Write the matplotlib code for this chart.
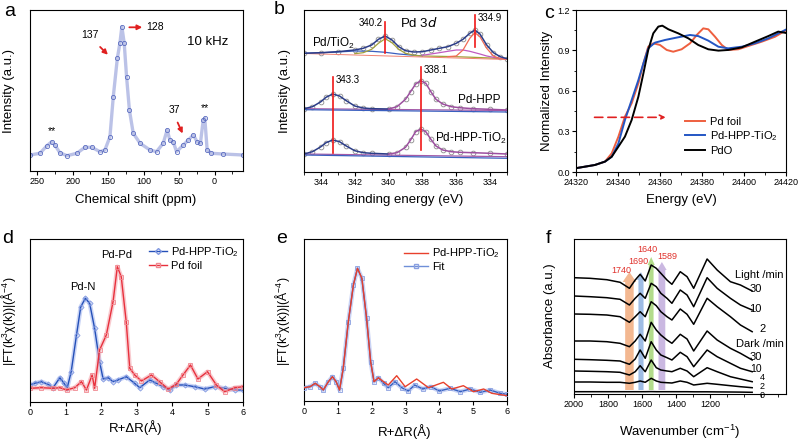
import numpy as np
import matplotlib
matplotlib.use('Agg')
import matplotlib.pyplot as plt
from matplotlib.ticker import MultipleLocator, FormatStrFormatter, FixedLocator
from matplotlib.lines import Line2D

plt.rcParams['font.family'] = ['Liberation Sans', 'DejaVu Sans']
plt.rcParams['mathtext.default'] = 'regular'
plt.rcParams['axes.linewidth'] = 0.8

# ---------------- data ----------------
# (a) 13C NMR
nmr_ppm = [260, 246, 236.5, 229.5, 225, 218, 208, 194, 182.6, 173, 161.5, 154.5, 147.4, 142.7, 137,
           133.4, 130.6, 127.3, 124, 120, 114.6, 105, 91, 81.8, 72.4, 66.8, 63, 58.3, 53.6, 44, 37,
           30, 24.6, 20, 16, 13.8, 10.5, 4.4, -12, -40]
nmr_int = [16, 17.7, 25, 29.3, 26, 18.3, 15.3, 17.7, 23.7, 23.7, 19.3, 21, 34.3, 74.3, 112.7,
           127.7, 144.3, 127.7, 94.3, 61, 37.7, 27.7, 21, 19.3, 27.7, 41, 31, 29.3, 19.3, 26, 31,
           36, 29.3, 27.7, 51, 52.7, 21, 17.7, 17, 16]

# (b) XPS Pd 3d
xps_ev_top = [345, 344, 343, 342, 341.5, 341, 340.6, 340.2, 339.8, 339.4, 339, 338.5, 338, 337.5,
              337, 336.5, 336, 335.6, 335.2, 334.9, 334.6, 334.2, 333.8, 333.4, 333]
xps_pd_tio2 = [118.7, 119.3, 120.3, 122, 123.7, 127, 132.7, 136, 132, 125.3, 121.3, 120, 120.3, 122,
               123.7, 125.3, 128.7, 132.7, 138.7, 142, 138, 127, 119.3, 115.3, 113.3]
olive_ev = [342, 341.5, 341, 340.6, 340.2, 339.8, 339.4, 339, 338.5, 338, 337, 336, 335, 334, 333]
olive_fit = [118.3, 119.3, 122.7, 128.7, 133.3, 129.3, 122.7, 118.7, 116.7, 116, 115.7, 115.3, 114.7, 114, 113]
blue_ev = [345, 344, 343, 342, 341, 340.2, 339.4, 338.5, 338]
blue_fit = [118.7, 119.2, 120, 121, 120.7, 119.7, 118, 116.7, 116]
mag_ev = [338, 337, 336.5, 336, 335.6, 335.2, 334.6, 334.2, 333.8, 333.4, 333]
mag_fit = [116.7, 119.3, 120.7, 122, 122, 120.7, 118, 116, 114.7, 113.7, 113]
red_ev = [336.5, 336, 335.6, 335.2, 334.9, 334.6, 334.2, 333.8, 333.4, 333]
red_fit = [115.3, 116, 122, 133.7, 139.3, 135.3, 123.7, 116, 113.3, 112.7]

xps_ev = [345, 344.5, 344, 343.7, 343.3, 342.9, 342.5, 342, 341.5, 341, 340, 339.5, 339, 338.7,
          338.4, 338.1, 337.8, 337.5, 337.2, 336.8, 336.3, 335.8, 335, 334, 333]
xps_hpp = [63.3, 65.3, 70.3, 74.7, 78, 76, 71.3, 66, 64, 63.3, 63, 65.3, 72.7, 80.3, 88, 91.3,
           88.7, 80.3, 72.7, 68, 65.3, 64.3, 63.3, 62.7, 62]
xps_hpp_tio2 = [18, 20.3, 25.3, 29.3, 32, 30.3, 26, 21.3, 19.3, 18.7, 18, 19.3, 24.7, 32, 40.3, 43,
                40.3, 32.7, 26, 22, 20.3, 19.7, 19.3, 18.7, 18]

# (c) XANES
c_foil_e = [24319.5, 24329, 24333.8, 24337, 24340.2, 24343.3, 24346.5, 24349.7, 24352.1, 24354.4,
            24356.8, 24360, 24363.2, 24366.3, 24370.3, 24374.3, 24377.5, 24380.6, 24383, 24386.2,
            24389.4, 24392.5, 24397.3, 24402, 24408.4, 24414.8, 24420]
c_foil = [0.027, 0.052, 0.077, 0.138, 0.262, 0.41, 0.509, 0.657, 0.805, 0.928, 0.953, 0.941, 0.904,
          0.891, 0.909, 0.953, 1.015, 1.064, 1.057, 1.002, 0.941, 0.904, 0.909, 0.933, 0.965, 1.002, 1.05]
c_hpp_e = [24319.5, 24329, 24333.8, 24337, 24340.2, 24343.3, 24346.5, 24349.7, 24352.1, 24354.4,
           24357.6, 24362.4, 24368.7, 24374.3, 24378.2, 24383, 24387.8, 24392.5, 24398.9, 24405.2,
           24411.6, 24420]
c_hpp = [0.027, 0.052, 0.077, 0.113, 0.212, 0.385, 0.533, 0.681, 0.805, 0.916, 0.958, 0.978, 0.998,
         1.015, 1.007, 0.973, 0.928, 0.916, 0.928, 0.953, 0.99, 1.055]
c_pdo_e = [24319.5, 24329, 24333.8, 24337, 24340.2, 24343.3, 24346.5, 24349.7, 24352.1, 24354.4,
           24356.8, 24359.2, 24361.1, 24364, 24368.7, 24373.5, 24378.2, 24383, 24387.8, 24392.5,
           24398.9, 24405.2, 24411.6, 24416.3, 24420]
c_pdo = [0.027, 0.052, 0.077, 0.113, 0.188, 0.262, 0.385, 0.558, 0.731, 0.904, 1.027, 1.077, 1.084,
         1.057, 1.027, 0.99, 0.941, 0.909, 0.899, 0.904, 0.923, 0.965, 1.007, 1.04, 1.03]

# (d) FT-EXAFS
d_hpp_r = [0, 0.13, 0.32, 0.51, 0.65, 0.84, 0.96, 1.05, 1.16, 1.31, 1.43, 1.56, 1.68, 1.82, 1.96,
           2.06, 2.2, 2.34, 2.48, 2.71, 2.95, 3.09, 3.37, 3.56, 3.75, 3.93, 4.12, 4.36, 4.64, 4.92,
           5.2, 5.48, 5.77, 6.0]
d_hpp = [17, 18.7, 20.3, 17.7, 14.3, 24.3, 18.7, 14.3, 30.3, 67, 95.3, 103.7, 98.7, 73.7, 40.3,
         23, 24.3, 20.3, 22, 25.3, 18.7, 14.3, 22, 18.7, 15.3, 12, 17, 17, 15.3, 13, 15.3, 13.7, 12, 12]
d_foil_r = [0, 0.32, 0.65, 0.84, 1.03, 1.26, 1.45, 1.59, 1.75, 1.82, 1.96, 2.15, 2.34, 2.46, 2.57,
            2.71, 2.81, 2.95, 3.14, 3.42, 3.65, 3.89, 4.12, 4.31, 4.52, 4.73, 5.0, 5.25, 5.48, 5.77, 6.0]
d_foil = [13.7, 14.3, 13.7, 14.3, 12, 14.3, 20.3, 12, 27, 13.7, 52, 67, 100.3, 135.3, 125.3, 80.3,
          33.7, 27, 21, 27, 20.3, 13, 17.7, 27, 37, 23, 30.3, 17, 10.3, 14.3, 15.3]

# (e) EXAFS fit
e_exp_r = [0, 0.18, 0.33, 0.47, 0.57, 0.72, 0.84, 0.95, 1.05, 1.16, 1.31, 1.46, 1.58, 1.71, 1.85,
           1.97, 2.07, 2.2, 2.35, 2.49, 2.74, 2.99, 3.33, 3.68, 4.12, 4.37, 4.71, 5.01, 5.31, 5.55, 6.0]
e_exp = [13.3, 14.3, 17.7, 14.3, 11, 19.3, 24.3, 19.3, 11, 32.7, 79.3, 116, 132.7, 122.7, 82.7,
         39.3, 19.3, 23.3, 19.3, 16, 25.3, 14.3, 22, 13.3, 18.7, 12, 15.3, 9.3, 12, 7.7, 5.3]
e_fit_r = [0, 0.18, 0.33, 0.47, 0.57, 0.72, 0.84, 0.95, 1.05, 1.16, 1.31, 1.46, 1.58, 1.71, 1.85,
           1.97, 2.07, 2.2, 2.35, 2.49, 2.69, 2.89, 3.08, 3.27, 3.51, 3.75, 4.0, 4.32, 4.62, 4.91,
           5.21, 5.5, 5.8, 6.0]
e_fit = [13.3, 14.3, 17.7, 14.3, 11, 19.3, 24.3, 19.3, 11, 32.7, 79.3, 116, 132.7, 122.7, 82.7,
         39.3, 19.3, 23.3, 17.7, 13.3, 19.3, 13.3, 10, 16, 12, 14.3, 10, 12.7, 9.3, 12, 8.7, 11, 7.7, 6.7]

# (f) in-situ IR
ir_wn = [2000, 1906, 1807, 1729, 1674, 1640, 1611, 1581, 1546, 1516, 1489, 1453, 1424, 1375, 1335,
         1296, 1217, 1158, 1080, 1021, 952]
ir_light30 = [116.3, 115.7, 114.3, 111.7, 105.7, 114, 119.7, 113, 129, 125.7, 120.7, 114, 109.7,
              122.3, 117.3, 105.7, 135, 124, 112.3, 109, 103]
ir_light10 = [98, 97.3, 96.3, 94.7, 89, 95.7, 100.7, 95.7, 110.7, 107.3, 100.7, 95.7, 90.7, 104, 99,
              87.3, 116.3, 105.7, 95.7, 89, 84]
ir_light2 = [80, 79.7, 79, 77.3, 71.7, 77.3, 82.3, 77.3, 92.3, 88.3, 82.3, 77.3, 74, 85, 79.7, 69.7,
             95.7, 87.3, 77.3, 69, 62.3]
ir_dark30 = [53, 53, 52.3, 50.7, 47.3, 53, 59.7, 53, 71.7, 64, 59, 54, 50.7, 59.7, 55, 43, 63, 54,
             45.7, 40.7, 34]
ir_dark10 = [34.7, 34.3, 33.7, 33, 29.7, 35, 44, 35.7, 52.3, 44, 39, 36.3, 34, 41.7, 37.3, 27.3, 44,
             37.3, 30.7, 25.7, 22.3]
ir_dark4 = [23, 22.7, 22.3, 21.7, 19, 22.3, 28.3, 22.3, 34, 26.3, 24, 23, 22.3, 25.7, 23, 17.3, 26.3,
            22.3, 17.3, 15, 12.3]
ir_dark2 = [12, 12, 11.7, 11.7, 10.7, 11.7, 13, 11.7, 15.7, 13, 11.7, 11.3, 11, 13, 11.7, 9, 10.7,
            9.7, 8.3, 7.3, 6.3]
ir_dark0 = [2.3, 2.3, 2.3, 2.3, 2.3, 2.3, 2.3, 2.3, 2.4, 2.3, 2.3, 2.3, 2.3, 2.3, 2.3, 2.2, 2.2,
            2.1, 2.0, 1.9, 1.7]
ir_curves = [ir_light30, ir_light10, ir_light2, ir_dark30, ir_dark10, ir_dark4, ir_dark2, ir_dark0]
band_labels = ['1740', '1690', '1640', '1589']
band_pos = [1674, 1606, 1546, 1483]

# ---------------- layout helpers ----------------
W, H = 798, 440


def box(x0, y0, x1, y1):
    return [x0 / W, 1 - y1 / H, (x1 - x0) / W, (y1 - y0) / H]


def ftext(x, y, s, **kw):
    fig.text(x / W, 1 - y / H, s, ha='center', va='center', **kw)


TICK = 6.5
LAB = 9.5

fig = plt.figure(figsize=(7.98, 4.4), dpi=100)


def style(ax):
    ax.tick_params(axis='both', which='major', direction='out', length=3, width=0.8,
                   labelsize=TICK, pad=1.5)
    ax.tick_params(axis='both', which='minor', direction='out', length=1.8, width=0.6)
    ax.tick_params(axis='y', left=False, labelleft=False, which='both')


# ---------------- (a) ----------------
ax = fig.add_axes(box(30, 10, 243, 171))
ax.plot(nmr_ppm, nmr_int, color='#8f9ad8', lw=2.4, alpha=0.6)
ax.plot(nmr_ppm, nmr_int, ls='none', marker='o', ms=3, mfc='none', mec='#5a6cc0', mew=0.6)
ax.set_xlim(260, -40)
ax.set_ylim(0, 161)
ax.xaxis.set_major_locator(FixedLocator([250, 200, 150, 100, 50, 0]))
ax.xaxis.set_minor_locator(FixedLocator([225, 175, 125, 75, 25, -25]))
style(ax)
ax.text(175.6, 136, '137', fontsize=7.5, ha='center', va='center')
ax.annotate('', xy=(147.5, 114.3), xytext=(164, 126),
            arrowprops=dict(arrowstyle='-|>', color='#e02020', lw=1.3, mutation_scale=7))
ax.annotate('', xy=(98, 143.7), xytext=(124, 143.7),
            arrowprops=dict(arrowstyle='-|>', color='#e02020', lw=1.3, mutation_scale=7))
ax.text(96, 144, '128', fontsize=7.5, ha='left', va='center')
ax.text(9.6, 129.3, '10 kHz', fontsize=9.5, ha='center', va='center')
ax.text(229.5, 40, '**', fontsize=7.5, ha='center', va='center')
ax.text(14, 63, '**', fontsize=7.5, ha='center', va='center')
ax.text(56, 61, '37', fontsize=7.5, ha='center', va='center')
ax.annotate('', xy=(43.4, 35), xytext=(53.7, 51),
            arrowprops=dict(arrowstyle='-|>', color='#e02020', lw=1.3, mutation_scale=7))
ftext(10, 12, 'a', fontsize=14)
ftext(9, 91, 'Intensity (a.u.)', fontsize=LAB, rotation=90)
ftext(136, 200, 'Chemical shift (ppm)', fontsize=LAB)

# ---------------- (b) ----------------
ax = fig.add_axes(box(304, 10, 507, 172))
gray = dict(ls='none', marker='o', ms=3.4, mfc='none', mec='#8c8c8c', mew=0.6)
ax.plot(xps_ev_top, xps_pd_tio2, **gray)
ax.plot(blue_ev, blue_fit, color='#3a5fbf', lw=0.9)
ax.plot(olive_ev, olive_fit, color='#a3a13a', lw=0.9)
ax.plot(mag_ev, mag_fit, color='#c05ac0', lw=0.9)
ax.plot(red_ev, red_fit, color='#f26a55', lw=0.9)
ax.plot([345, 333], [118.5, 112.5], color='#f08070', lw=0.7)
ax.plot(xps_ev_top, xps_pd_tio2, color='#2c3d88', lw=1.1)

ax.plot(xps_ev, xps_hpp, **gray)
ax.plot([345, 333], [63.3, 61.5], color='#a35aa8', lw=0.9)
ax.plot([345, 333], [62.3, 60.0], color='#3a5fbf', lw=0.9)
ax.plot(xps_ev[:11], xps_hpp[:11], color='#2c3d88', lw=1.1)
ax.plot(xps_ev[10:], xps_hpp[10:], color='#9c4f9f', lw=1.1)

ax.plot(xps_ev, xps_hpp_tio2, **gray)
ax.plot([345, 333], [18, 15.3], color='#a35aa8', lw=0.9)
ax.plot([345, 333], [17, 13.7], color='#3a5fbf', lw=0.9)
ax.plot(xps_ev[:11], xps_hpp_tio2[:11], color='#2c3d88', lw=1.1)
ax.plot(xps_ev[10:], xps_hpp_tio2[10:], color='#9c4f9f', lw=1.1)

for xv, y0, y1 in [(343.3, 18.7, 95.3), (338.1, 22, 105.3), (340.2, 118.7, 150.3), (334.9, 125.3, 157)]:
    ax.plot([xv, xv], [y0, y1], color='#f01818', lw=1.2)
ax.text(340.35, 149, '340.2', fontsize=7, ha='right', va='center')
ax.text(334.75, 154, '334.9', fontsize=7, ha='left', va='center')
ax.text(337.95, 102, '338.1', fontsize=7, ha='left', va='center')
ax.text(343.15, 92, '343.3', fontsize=7, ha='left', va='center')
ax.text(338.2, 149, 'Pd 3$\\it{d}$', fontsize=9.5, ha='center', va='center')
ax.text(344.55, 128.5, 'Pd/TiO$_2$', fontsize=8.5, ha='left', va='center')
ax.text(333.4, 72, 'Pd-HPP', fontsize=8.5, ha='right', va='center')
ax.text(333.05, 34, 'Pd-HPP-TiO$_2$', fontsize=8.5, ha='right', va='center')
ax.set_xlim(345, 333)
ax.set_ylim(0, 162)
ax.xaxis.set_major_locator(MultipleLocator(2))
ax.xaxis.set_minor_locator(MultipleLocator(1))
style(ax)
ftext(279, 10, 'b', fontsize=14)
ftext(285, 91, 'Intensity (a.u.)', fontsize=LAB, rotation=90)
ftext(405, 200, 'Binding energy (eV)', fontsize=LAB)

# ---------------- (c) ----------------
ax = fig.add_axes(box(576, 10, 786, 172))
ax.plot(c_foil_e, c_foil, color='#ee5f3f', lw=1.4, label='Pd foil')
ax.plot(c_hpp_e, c_hpp, color='#2456c4', lw=1.4, label='Pd-HPP-TiO$_2$')
ax.plot(c_pdo_e, c_pdo, color='black', lw=1.4, label='PdO')
ax.annotate('', xy=(24364, 0.405), xytext=(24327.5, 0.405),
            arrowprops=dict(arrowstyle='->', color='#e02020', lw=1.2, ls=(0, (5, 3)),
                            mutation_scale=8))
ax.set_xlim(24320, 24420)
ax.set_ylim(0, 1.2)
ax.xaxis.set_major_locator(MultipleLocator(20))
ax.xaxis.set_minor_locator(MultipleLocator(10))
ax.yaxis.set_major_locator(MultipleLocator(0.3))
ax.yaxis.set_minor_locator(MultipleLocator(0.15))
ax.yaxis.set_major_formatter(FormatStrFormatter('%.1f'))
ax.tick_params(axis='both', which='major', direction='out', length=3, width=0.8,
               labelsize=TICK, pad=1.5)
ax.tick_params(axis='both', which='minor', direction='out', length=1.8, width=0.6)
ax.legend(loc='upper left', bbox_to_anchor=(0.5, 0.37), frameon=False, fontsize=8,
          handlelength=1.8, handletextpad=0.4, labelspacing=0.25, borderaxespad=0)
ftext(549, 13, 'c', fontsize=14)
ftext(547, 91, 'Normalized Intensity', fontsize=LAB, rotation=90)
ftext(681, 200, 'Energy (eV)', fontsize=LAB)

# ---------------- (d) ----------------
ax = fig.add_axes(box(30, 239, 243, 402))
ax.plot(d_hpp_r, d_hpp, color='#9fb2ee', lw=3.2, alpha=0.55)
ax.plot(d_hpp_r, d_hpp, color='#2450b8', lw=1.0, marker='D', ms=2.6, mfc='none',
        mec='#7f97e0', mew=0.6)
ax.plot(d_foil_r, d_foil, color='#f4a0a8', lw=3.2, alpha=0.55)
ax.plot(d_foil_r, d_foil, color='#e8303c', lw=1.0, marker='s', ms=2.6, mfc='none',
        mec='#f08890', mew=0.6)
ax.text(1.49, 115.3, 'Pd-N', fontsize=8, ha='center', va='center')
ax.text(2.43, 147, 'Pd-Pd', fontsize=8, ha='center', va='center')
h1 = Line2D([], [], color='#2450b8', lw=1.0, marker='D', ms=3, mfc='none', mec='#7f97e0')
h2 = Line2D([], [], color='#e8303c', lw=1.0, marker='s', ms=3.5, mfc='none', mec='#f08890')
ax.legend([h1, h2], ['Pd-HPP-TiO$_2$', 'Pd foil'], loc='upper left', bbox_to_anchor=(0.54, 0.99),
          frameon=False, fontsize=8, handlelength=1.6, handletextpad=0.3, labelspacing=0.15,
          borderaxespad=0)
ax.set_xlim(0, 6)
ax.set_ylim(0, 163)
ax.xaxis.set_major_locator(MultipleLocator(1))
style(ax)
ftext(8, 238, 'd', fontsize=14)
ftext(9, 321, '|FT(k$^3$χ(k))|(Å$^{-4}$)', fontsize=8.8, rotation=90)
ftext(136, 428, 'R+ΔR(Å)', fontsize=LAB)

# ---------------- (e) ----------------
ax = fig.add_axes(box(304, 239, 507, 401))
ax.plot(e_fit_r, e_fit, color='#9fb2ee', lw=3.2, alpha=0.55, zorder=2)
ax.plot(e_fit_r, e_fit, color='#3560c0', lw=1.0, marker='s', ms=2.6, mfc='none',
        mec='#8aa0e0', mew=0.6, zorder=3, label='Fit')
ax.plot(e_exp_r, e_exp, color='#e8402c', lw=1.0, zorder=4, label='Pd-HPP-TiO$_2$')
h1 = Line2D([], [], color='#e8402c', lw=1.0)
h2 = Line2D([], [], color='#6f8fd8', lw=1.0, marker='s', ms=3.5, mfc='none', mec='#8aa0e0')
ax.legend([h1, h2], ['Pd-HPP-TiO$_2$', 'Fit'], loc='upper left', bbox_to_anchor=(0.47, 0.98),
          frameon=False, fontsize=8, handlelength=2.2, handletextpad=0.3, labelspacing=0.15,
          borderaxespad=0)
ax.set_xlim(0, 6)
ax.set_ylim(0, 162)
ax.xaxis.set_major_locator(MultipleLocator(1))
style(ax)
ftext(282, 238, 'e', fontsize=14)
ftext(283, 321, '|FT(k$^3$χ(k))|(Å$^{-4}$)', fontsize=8.8, rotation=90)
ftext(405, 432, 'R+ΔR(Å)', fontsize=LAB)

# ---------------- (f) ----------------
ax = fig.add_axes(box(574, 239, 786, 394))
arrow_style = [('#f0a06c', 4, 118, 50, 80, 10), ('#7ea6dc', 4, 118, 30, 46, 8),
               ('#98d064', 4, 133, 28, 42, 8), ('#b9a0d8', 4, 128, 40, 56, 8)]
for xc, (col, yb, dy, wd, hw, hl) in zip(band_pos, arrow_style):
    ax.arrow(xc, yb, 0, dy, width=wd, head_width=hw, head_length=hl, length_includes_head=True,
             color=col, alpha=0.75, lw=0, zorder=1)
for yv in ir_curves:
    ax.plot(ir_wn, yv, color='black', lw=1.1, zorder=3)
for txt, xt, yt in zip(band_labels, [1719, 1621, 1571, 1453], [124, 133, 145, 138]):
    ax.text(xt, yt, txt, color='#e0302a', fontsize=6.5, ha='center', va='center')
side = [('Light /min', 767, 119, 'right', 8), ('30', 932, 105, 'center', 8),
        ('10', 932, 85, 'center', 8), ('2', 891, 65, 'center', 8),
        ('Dark /min', 767, 50, 'right', 8), ('30', 932, 37, 'center', 8),
        ('10', 932, 25.5, 'center', 7.5), ('4', 891, 16.5, 'center', 6.5),
        ('2', 891, 7.3, 'center', 6.5), ('0', 891, -1.8, 'center', 6.5)]
for txt, xt, yt, ha, fs in side:
    ax.text(xt, yt, txt, fontsize=fs, ha=ha, va='center', clip_on=False)
ax.set_xlim(2000, 753)
ax.set_ylim(0, 155)
ax.xaxis.set_major_locator(FixedLocator([2000, 1800, 1600, 1400, 1200]))
ax.xaxis.set_minor_locator(FixedLocator([1900, 1700, 1500, 1300, 1100, 1000, 900, 800]))
style(ax)
ftext(548, 238, 'f', fontsize=14)
ftext(550, 316, 'Absorbance (a.u.)', fontsize=LAB, rotation=90)
ftext(680, 432, 'Wavenumber (cm$^{-1}$)', fontsize=LAB)

fig.savefig('out.png', dpi=100)
